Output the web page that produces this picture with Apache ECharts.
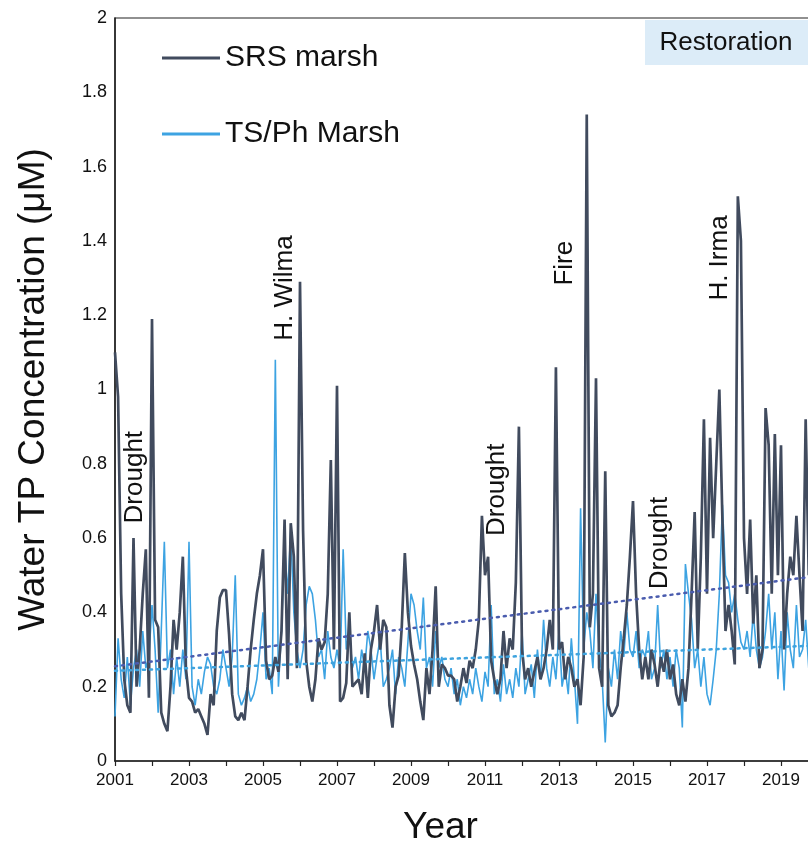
<!DOCTYPE html>
<html>
<head>
<meta charset="utf-8">
<script src="https://cdn.jsdelivr.net/npm/echarts@6/dist/echarts.min.js"></script>
<style>
  html, body { margin: 0; padding: 0; background: #ffffff; }
  #chart { width: 808px; height: 842px; }
</style>
</head>
<body>
<div id="chart"></div>
<script>
// Monthly water total phosphorus (µM), starting January 2001
const startYear = 2001;

const srsMarsh = [
  // 2001
  1.10, 0.98, 0.45, 0.22, 0.15, 0.13, 0.60, 0.20, 0.30, 0.45, 0.57, 0.17,
  // 2002
  1.19, 0.38, 0.36, 0.13, 0.10, 0.08, 0.20, 0.38, 0.30, 0.40, 0.55, 0.25,
  // 2003
  0.17, 0.16, 0.13, 0.14, 0.12, 0.10, 0.07, 0.18, 0.15, 0.35, 0.44, 0.46,
  // 2004
  0.46, 0.34, 0.18, 0.12, 0.11, 0.13, 0.11, 0.20, 0.30, 0.38, 0.45, 0.50,
  // 2005
  0.57, 0.27, 0.22, 0.23, 0.28, 0.24, 0.35, 0.65, 0.22, 0.64, 0.55, 0.25,
  // 2006
  1.29, 0.62, 0.27, 0.20, 0.16, 0.22, 0.33, 0.30, 0.32, 0.45, 0.81, 0.30,
  // 2007
  1.01, 0.16, 0.17, 0.21, 0.40, 0.20, 0.21, 0.22, 0.18, 0.29, 0.17, 0.30,
  // 2008
  0.35, 0.42, 0.30, 0.38, 0.36, 0.15, 0.09, 0.20, 0.23, 0.36, 0.56, 0.40,
  // 2009
  0.31, 0.26, 0.22, 0.16, 0.11, 0.25, 0.18, 0.30, 0.47, 0.20, 0.26, 0.25,
  // 2010
  0.23, 0.23, 0.22, 0.16, 0.20, 0.25, 0.21, 0.27, 0.25, 0.30, 0.38, 0.66,
  // 2011
  0.50, 0.55, 0.27, 0.22, 0.18, 0.22, 0.35, 0.25, 0.33, 0.30, 0.48, 0.90,
  // 2012
  0.30, 0.22, 0.25, 0.20, 0.24, 0.28, 0.22, 0.25, 0.30, 0.38, 0.30, 1.06,
  // 2013
  0.30, 0.32, 0.22, 0.28, 0.25, 0.20, 0.22, 0.15, 0.28, 1.74, 0.36, 0.45,
  // 2014
  1.03, 0.25, 0.20, 0.78, 0.15, 0.12, 0.13, 0.15, 0.25, 0.33, 0.42, 0.55,
  // 2015
  0.70, 0.45, 0.30, 0.22, 0.28, 0.22, 0.30, 0.26, 0.20, 0.28, 0.24, 0.30,
  // 2016
  0.22, 0.26, 0.18, 0.15, 0.22, 0.16, 0.25, 0.45, 0.67, 0.30, 0.55, 0.92,
  // 2017
  0.45, 0.87, 0.60, 0.80, 1.00, 0.65, 0.35, 0.42, 0.35, 0.26, 1.52, 1.40,
  // 2018
  0.60, 0.45, 0.65, 0.37, 0.50, 0.25, 0.30, 0.95, 0.85, 0.45, 0.88, 0.50,
  // 2019
  0.85, 0.30, 0.45, 0.55, 0.50, 0.66, 0.50, 0.35, 0.92, 0.50
];

const tsPhMarsh = [
  // 2001
  0.12, 0.33, 0.22, 0.17, 0.28, 0.15, 0.25, 0.30, 0.20, 0.35, 0.25, 0.28,
  // 2002
  0.42, 0.30, 0.13, 0.35, 0.59, 0.25, 0.30, 0.18, 0.28, 0.20, 0.30, 0.22,
  // 2003
  0.59, 0.20, 0.15, 0.22, 0.18, 0.24, 0.28, 0.26, 0.20, 0.18, 0.22, 0.30,
  // 2004
  0.25, 0.20, 0.28, 0.50, 0.18, 0.15, 0.17, 0.20, 0.16, 0.18, 0.22, 0.30,
  // 2005
  0.40, 0.22, 0.25, 0.18, 1.08, 0.20, 0.35, 0.58, 0.45, 0.62, 0.40, 0.30,
  // 2006
  0.25, 0.30, 0.42, 0.47, 0.45, 0.38, 0.28, 0.30, 0.22, 0.35, 0.28, 0.25,
  // 2007
  0.30, 0.25, 0.57, 0.30, 0.35, 0.25, 0.28, 0.22, 0.30, 0.25, 0.35, 0.30,
  // 2008
  0.22, 0.28, 0.33, 0.20, 0.22, 0.25, 0.30, 0.18, 0.28, 0.25, 0.20, 0.32,
  // 2009
  0.45, 0.42, 0.35, 0.30, 0.44, 0.25, 0.28, 0.20, 0.35, 0.25, 0.28, 0.22,
  // 2010
  0.20, 0.25, 0.18, 0.22, 0.15, 0.20, 0.17, 0.22, 0.18, 0.25, 0.20, 0.16,
  // 2011
  0.24, 0.20, 0.42, 0.18, 0.22, 0.16, 0.26, 0.18, 0.22, 0.17, 0.25, 0.20,
  // 2012
  0.35, 0.18, 0.22, 0.26, 0.17, 0.30, 0.22, 0.38, 0.25, 0.20, 0.28, 0.22,
  // 2013
  0.35, 0.20, 0.25, 0.18, 0.33, 0.22, 0.10, 0.68, 0.30, 0.40, 0.35, 0.25,
  // 2014
  0.45, 0.30, 0.22, 0.05, 0.25, 0.20, 0.30, 0.22, 0.35, 0.28, 0.40, 0.30,
  // 2015
  0.28, 0.35, 0.25, 0.30, 0.28, 0.35, 0.22, 0.25, 0.42, 0.25, 0.30, 0.22,
  // 2016
  0.28, 0.20, 0.30, 0.25, 0.09, 0.53, 0.45, 0.38, 0.25, 0.30, 0.20, 0.28,
  // 2017
  0.18, 0.15, 0.22, 0.30, 0.45, 0.69, 0.50, 0.48, 0.40, 0.45, 0.38, 0.32,
  // 2018
  0.30, 0.35, 0.28, 0.40, 0.30, 0.25, 0.28, 0.35, 0.45, 0.30, 0.40, 0.22,
  // 2019
  0.35, 0.19, 0.40, 0.30, 0.25, 0.42, 0.28, 0.30, 0.38, 0.25
];

// Linear trend end points [year, value]
const srsTrend = [[2001, 0.255], [2019.75, 0.495]];
const tsPhTrend = [[2001, 0.243], [2019.75, 0.31]];

// Event annotations, centred at [year, value]
const eventLabels = ['Drought', 'H. Wilma', 'Drought', 'Fire', 'Drought', 'H. Irma'];
const eventYears  = [2001.54, 2005.59, 2011.32, 2013.16, 2015.73, 2017.35];
const eventValues = [0.764, 1.273, 0.73, 1.34, 0.587, 1.354];

const FONT = "'Liberation Sans', Arial, sans-serif";

const monthly = arr => arr.map((v, i) => [startYear + i / 12, v]);

const chart = echarts.init(document.getElementById('chart'), null, { renderer: 'canvas' });

chart.setOption({
  animation: false,
  backgroundColor: '#ffffff',
  grid: {
    left: 115, right: -10, top: 18, bottom: 81,
    containLabel: false, outerBoundsMode: 'none',
    show: true, borderColor: '#222', borderWidth: 1.2, backgroundColor: 'transparent'
  },
  legend: {
    orient: 'vertical',
    left: 157, top: 38,
    itemWidth: 58, itemHeight: 3, itemGap: 46,
    icon: 'rect',
    textStyle: { fontFamily: FONT, fontSize: 30, color: '#111' },
    data: ['SRS marsh', 'TS/Ph Marsh']
  },
  xAxis: {
    type: 'value',
    min: 2001, max: 2020, interval: 1,
    name: 'Year', nameLocation: 'middle', nameGap: 48,
    nameTextStyle: { fontFamily: FONT, fontSize: 37, color: '#111', padding: [0, 52, 0, 0] },
    axisLine: { show: true, lineStyle: { color: '#222', width: 1.5 } },
    axisTick: { show: true, length: 5, lineStyle: { color: '#222', width: 1.2 } },
    axisLabel: {
      fontFamily: FONT, fontSize: 17, color: '#111', margin: 11,
      formatter: v => (v % 2 === 1 ? String(v) : '')
    },
    splitLine: { show: false }
  },
  yAxis: {
    type: 'value',
    min: 0, max: 2, interval: 0.2,
    name: 'Water TP Concentration (\u03bcM)', nameLocation: 'middle', nameGap: 63,
    nameTextStyle: { fontFamily: FONT, fontSize: 37, color: '#111' },
    axisLine: { show: true, lineStyle: { color: '#222', width: 1.5 } },
    axisTick: { show: false },
    axisLabel: { fontFamily: FONT, fontSize: 18, color: '#111', margin: 8 },
    splitLine: { show: false }
  },
  series: [
    {
      name: 'TS/Ph Marsh', type: 'line', data: monthly(tsPhMarsh),
      showSymbol: false, symbol: 'none', z: 3,
      lineStyle: { color: '#3da3e2', width: 1.6 }, itemStyle: { color: '#3da3e2' }
    },
    {
      name: 'SRS marsh', type: 'line', data: monthly(srsMarsh),
      showSymbol: false, symbol: 'none', z: 4,
      lineStyle: { color: '#414b5e', width: 2.7 }, itemStyle: { color: '#414b5e' },
      markPoint: {
        symbol: 'circle', symbolSize: 0, silent: true,
        label: {
          show: true, position: 'inside', rotate: 90,
          fontFamily: FONT, fontSize: 26, color: '#111'
        },
        data: eventLabels.map((t, i) => ({
          coord: [eventYears[i], eventValues[i]], value: t,
          label: { formatter: t }
        }))
      }
    },
    {
      name: 'SRS trend', type: 'line', data: srsTrend,
      showSymbol: false, symbol: 'none', z: 5,
      lineStyle: { color: '#4a5cae', width: 2.5, type: [2, 5], cap: 'round' }
    },
    {
      name: 'TS/Ph trend', type: 'line', data: tsPhTrend,
      showSymbol: false, symbol: 'none', z: 5,
      lineStyle: { color: '#3ea3de', width: 2.5, type: [2, 5], cap: 'round' }
    }
  ],
  graphic: [
    {
      type: 'rect', z: 10,
      shape: { x: 645, y: 20, width: 170, height: 45 },
      style: { fill: '#dcecf8' }
    },
    {
      type: 'text', z: 11, x: 726, y: 43,
      style: {
        text: 'Restoration', fontFamily: FONT, fontSize: 26, fill: '#111',
        align: 'center', verticalAlign: 'middle'
      }
    }
  ]
});
</script>
</body>
</html>
